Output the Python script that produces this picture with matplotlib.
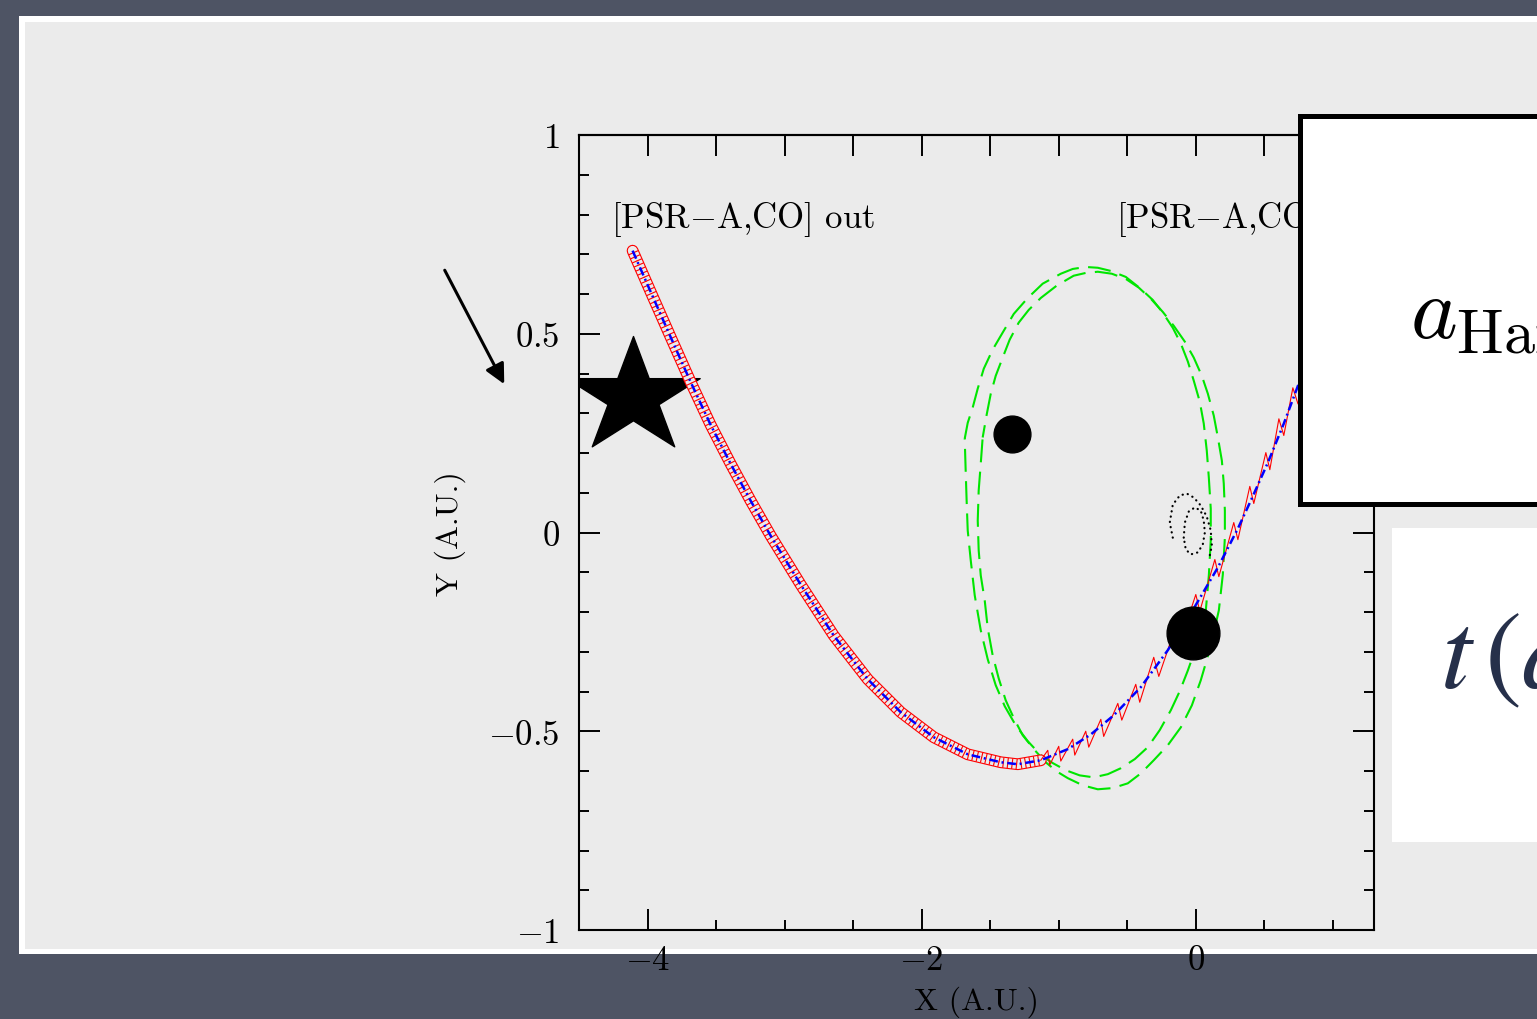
import numpy as np
import matplotlib.pyplot as plt
import matplotlib.patheffects as pe
from matplotlib.patches import Rectangle
from matplotlib.path import Path

# guiding-centre track of the pulsar (blue dash-dot)
path_x = [-4.109, -3.978, -3.832, -3.686, -3.540, -3.394, -3.248, -3.102, -2.883, -2.642,
          -2.394, -2.153, -1.912, -1.664, -1.423, -1.299, -1.131, -0.934, -0.766, -0.599,
          -0.401, -0.204, -0.015, 0.161, 0.307, 0.401, 0.526, 0.642, 0.745, 0.912]
path_y = [0.709, 0.606, 0.492, 0.379, 0.271, 0.173, 0.080, -0.008, -0.131, -0.259,
          -0.369, -0.452, -0.515, -0.558, -0.578, -0.583, -0.573, -0.545, -0.508, -0.460,
          -0.389, -0.296, -0.191, -0.088, 0.010, 0.080, 0.176, 0.274, 0.369, 0.520]

# red orbit after the loops open up (cusps)
red_r_x = [-1.131, -1.080, -1.066, -1.000, -0.985, -0.898, -0.883, -0.803, -0.781, -0.693,
           -0.672, -0.569, -0.540, -0.438, -0.409, -0.307, -0.270, -0.146, -0.117, 0.000,
           0.029, 0.139, 0.168, 0.277, 0.307, 0.394, 0.423, 0.511, 0.540, 0.606,
           0.642, 0.708, 0.745]
red_r_y = [-0.573, -0.548, -0.585, -0.538, -0.575, -0.520, -0.560, -0.500, -0.540, -0.470,
           -0.513, -0.430, -0.472, -0.382, -0.427, -0.314, -0.362, -0.236, -0.279, -0.156,
           -0.198, -0.068, -0.111, 0.025, -0.018, 0.116, 0.073, 0.201, 0.158, 0.286,
           0.244, 0.364, 0.324]

# green dashed orbits
e1_x = [-1.686, -1.664, -1.628, -1.591, -1.547, -1.482, -1.409, -1.328, -1.226, -1.117,
        -0.985, -0.898, -0.803, -0.715, -0.620, -0.511, -0.401, -0.314, -0.241, -0.168,
        -0.109, -0.058, -0.015, 0.029, 0.058, 0.080, 0.095, 0.109, 0.109, 0.095,
        0.073, 0.015, -0.058, -0.117, -0.182, -0.263, -0.350, -0.445, -0.547, -0.642,
        -0.745, -0.847, -0.949, -1.044, -1.131, -1.226, -1.314, -1.394, -1.460, -1.518,
        -1.569, -1.613, -1.642, -1.664, -1.672, -1.679, -1.686]
e1_y = [0.236, 0.276, 0.314, 0.362, 0.412, 0.460, 0.503, 0.550, 0.590, 0.626,
        0.651, 0.663, 0.668, 0.666, 0.658, 0.643, 0.613, 0.585, 0.553, 0.515,
        0.475, 0.430, 0.382, 0.329, 0.274, 0.206, 0.138, 0.060, -0.020, -0.108,
        -0.196, -0.276, -0.347, -0.399, -0.447, -0.497, -0.540, -0.570, -0.593, -0.608,
        -0.616, -0.611, -0.598, -0.580, -0.560, -0.525, -0.485, -0.437, -0.384, -0.319,
        -0.246, -0.158, -0.070, 0.005, 0.080, 0.156, 0.236]
e2_x = [-1.555, -1.526, -1.496, -1.460, -1.409, -1.358, -1.292, -1.219, -1.131, -1.015,
        -0.891, -0.803, -0.715, -0.613, -0.511, -0.416, -0.328, -0.241, -0.161, -0.080,
        -0.015, 0.044, 0.088, 0.131, 0.161, 0.190, 0.204, 0.212, 0.212, 0.197,
        0.168, 0.109, 0.036, -0.029, -0.109, -0.204, -0.307, -0.401, -0.496, -0.606,
        -0.715, -0.825, -0.934, -1.015, -1.095, -1.182, -1.263, -1.328, -1.387, -1.438,
        -1.482, -1.518, -1.540, -1.569, -1.584, -1.591, -1.584, -1.569, -1.555]
e2_y = [0.239, 0.296, 0.349, 0.394, 0.440, 0.485, 0.528, 0.560, 0.590, 0.621,
        0.646, 0.653, 0.656, 0.651, 0.638, 0.616, 0.588, 0.555, 0.520, 0.480,
        0.440, 0.394, 0.349, 0.294, 0.239, 0.181, 0.123, 0.055, -0.013, -0.106,
        -0.196, -0.286, -0.372, -0.435, -0.490, -0.535, -0.573, -0.606, -0.631, -0.643,
        -0.646, -0.636, -0.618, -0.601, -0.578, -0.545, -0.510, -0.467, -0.422, -0.367,
        -0.309, -0.241, -0.171, -0.108, -0.045, 0.030, 0.106, 0.173, 0.239]

# black dotted small orbit
dot1_x = [-0.168, -0.190, -0.168, -0.117, -0.066, -0.015, 0.036, 0.080, 0.109, 0.117, 0.102]
dot1_y = [-0.013, 0.025, 0.070, 0.093, 0.098, 0.088, 0.068, 0.040, 0.005, -0.033, -0.058]
dot2_x = [-0.088, -0.080, -0.051, -0.007, 0.036, 0.058, 0.066, 0.051, 0.015, -0.036, -0.073, -0.088]
dot2_y = [-0.013, 0.025, 0.053, 0.063, 0.055, 0.030, 0.000, -0.030, -0.050, -0.055, -0.043, -0.013]

# bodies
star_xy = (-4.109, 0.342)
small_body = (-1.343, 0.249)
big_body = (-0.022, -0.254)
arrow_start = (-5.489, 0.666)
arrow_end = (-5.036, 0.367)

xtick_vals = [-4, -2, 0]
xtick_labels = ['$-4$', '$-2$', '$0$']
ytick_vals = [-1, -0.5, 0, 0.5, 1]
ytick_labels = ['$-1$', '$-0.5$', '$0$', '$0.5$', '$1$']

plt.rcParams['font.family'] = ['cmr10']
plt.rcParams['mathtext.fontset'] = 'cm'

W, H = 1537, 1020
def fx(px):
    return px / W
def fy(py):
    return 1 - py / H

fig = plt.figure(figsize=(W / 100, H / 100), dpi=100)
fig.patch.set_facecolor('#4e5464')
bg = '#ebebeb'

# slide panel
fig.add_artist(Rectangle((fx(19), fy(955)), fx(1600) - fx(19), fy(17) - fy(955),
                         transform=fig.transFigure, facecolor='white', edgecolor='none', zorder=-2))
fig.add_artist(Rectangle((fx(25), fy(950)), fx(1600) - fx(25), fy(23) - fy(950),
                         transform=fig.transFigure, facecolor=bg, edgecolor='none', zorder=-1))

ax = fig.add_axes([fx(579), fy(931), 795 / W, 795 / H])
ax.set_facecolor('none')

# star marker, a bit wider than a regular one
ang = np.pi / 2 + np.arange(10) * np.pi / 5
rad = np.where(np.arange(10) % 2 == 0, 1.0, 0.382)
star_verts = np.column_stack([1.15 * rad * np.cos(ang), rad * np.sin(ang)])
star_marker = Path(np.vstack([star_verts, star_verts[:1]]), closed=True)
ax.plot([star_xy[0]], [star_xy[1]], marker=star_marker, ms=96, color='k', ls='none', zorder=2)

# red looping orbit, dense part drawn as a looped band
n_loop = 17
ax.plot(path_x[:n_loop], path_y[:n_loop], color='red', lw=0.8, zorder=3,
        solid_capstyle='round',
        path_effects=[pe.Stroke(linewidth=8.5, foreground='red'),
                      pe.Stroke(linewidth=6.9, foreground=bg),
                      pe.TickedStroke(spacing=3.2, angle=90, length=1.1, linewidth=0.8, foreground='red'),
                      pe.TickedStroke(spacing=3.2, angle=-90, length=1.1, linewidth=0.8, foreground='red')])
ax.plot(red_r_x, red_r_y, color='red', lw=0.8, zorder=3)

ax.plot(path_x, path_y, color='#0000ff', lw=1.8, ls=(0, (3.5, 1.5, 0.8, 1.5)), zorder=4)

ax.plot(e1_x, e1_y, color='#00e600', lw=1.5, ls=(0, (11, 4.5)), zorder=2)
ax.plot(e2_x, e2_y, color='#00e600', lw=1.5, ls=(5, (11, 4.5)), zorder=2)

ax.plot(dot1_x, dot1_y, color='k', lw=1.6, ls=(0, (0.1, 2.3)), dash_capstyle='round', zorder=3)
ax.plot(dot2_x, dot2_y, color='k', lw=1.6, ls=(0, (0.1, 2.3)), dash_capstyle='round', zorder=3)

ax.plot([small_body[0]], [small_body[1]], 'o', color='k', ms=26.5, zorder=5)
ax.plot([big_body[0]], [big_body[1]], 'o', color='k', ms=38, zorder=5)

ax.annotate('', xy=arrow_end, xytext=arrow_start, annotation_clip=False,
            arrowprops=dict(arrowstyle='-|>', lw=2.2, color='k', mutation_scale=30))

ax.text(-4.263, 0.789, '[PSR$-$A,CO] out', fontsize=25, ha='left', va='center')
ax.text(-0.584, 0.789, '[PSR$-$A,CO] in', fontsize=25, ha='left', va='center')

ax.set_xlim(-4.5, 1.3)
ax.set_ylim(-1, 1)
ax.set_xticks(xtick_vals, labels=xtick_labels, fontsize=25)
ax.set_xticks(np.arange(-4, 1.01, 0.5), minor=True)
ax.set_yticks(ytick_vals, labels=ytick_labels, fontsize=25)
ax.set_yticks(np.linspace(-1, 1, 21), minor=True)
ax.tick_params(which='both', direction='in', right=True, top=False, width=1.4)
ax.tick_params(which='major', length=15)
ax.tick_params(which='minor', length=7.5)
ax.tick_params(axis='y', pad=14)
ax.tick_params(axis='x', pad=10)
for s in ax.spines.values():
    s.set_linewidth(1.5)

top = ax.secondary_xaxis('top')
top.set_xticks(np.arange(-4, 1.01, 0.5))
top.tick_params(direction='in', length=15, width=1.4, labeltop=False)
top.spines['top'].set_linewidth(1.5)

ax.set_xlabel('X (A.U.)', fontsize=23)
ax.set_ylabel('Y (A.U.)', fontsize=23)
ax.xaxis.label.set_va('center')
ax.yaxis.label.set_va('center')
ax.xaxis.set_label_coords(0.5, -0.0893)
ax.yaxis.set_label_coords(-0.162, 0.5)

# overlapping slide boxes
fig.add_artist(Rectangle((fx(1299.5), fy(504.5)), fx(1650) - fx(1299.5), fy(116.5) - fy(504.5),
                         transform=fig.transFigure, facecolor='white', edgecolor='black',
                         linewidth=3.6, zorder=5))
fig.text(fx(1410), fy(338), r'$a_{\rm Hard}$', fontsize=64, ha='left', va='baseline', zorder=6)

fig.add_artist(Rectangle((fx(1392), fy(843)), fx(1650) - fx(1392), fy(529) - fy(843),
                         transform=fig.transFigure, facecolor='white', edgecolor='none', zorder=5))
fig.text(fx(1440), fy(688), r'$t\,(a$', fontsize=80, math_fontfamily='stix', color='#26304a',
         ha='left', va='baseline', zorder=6)

plt.savefig('out.png', dpi=100, facecolor=fig.get_facecolor())
